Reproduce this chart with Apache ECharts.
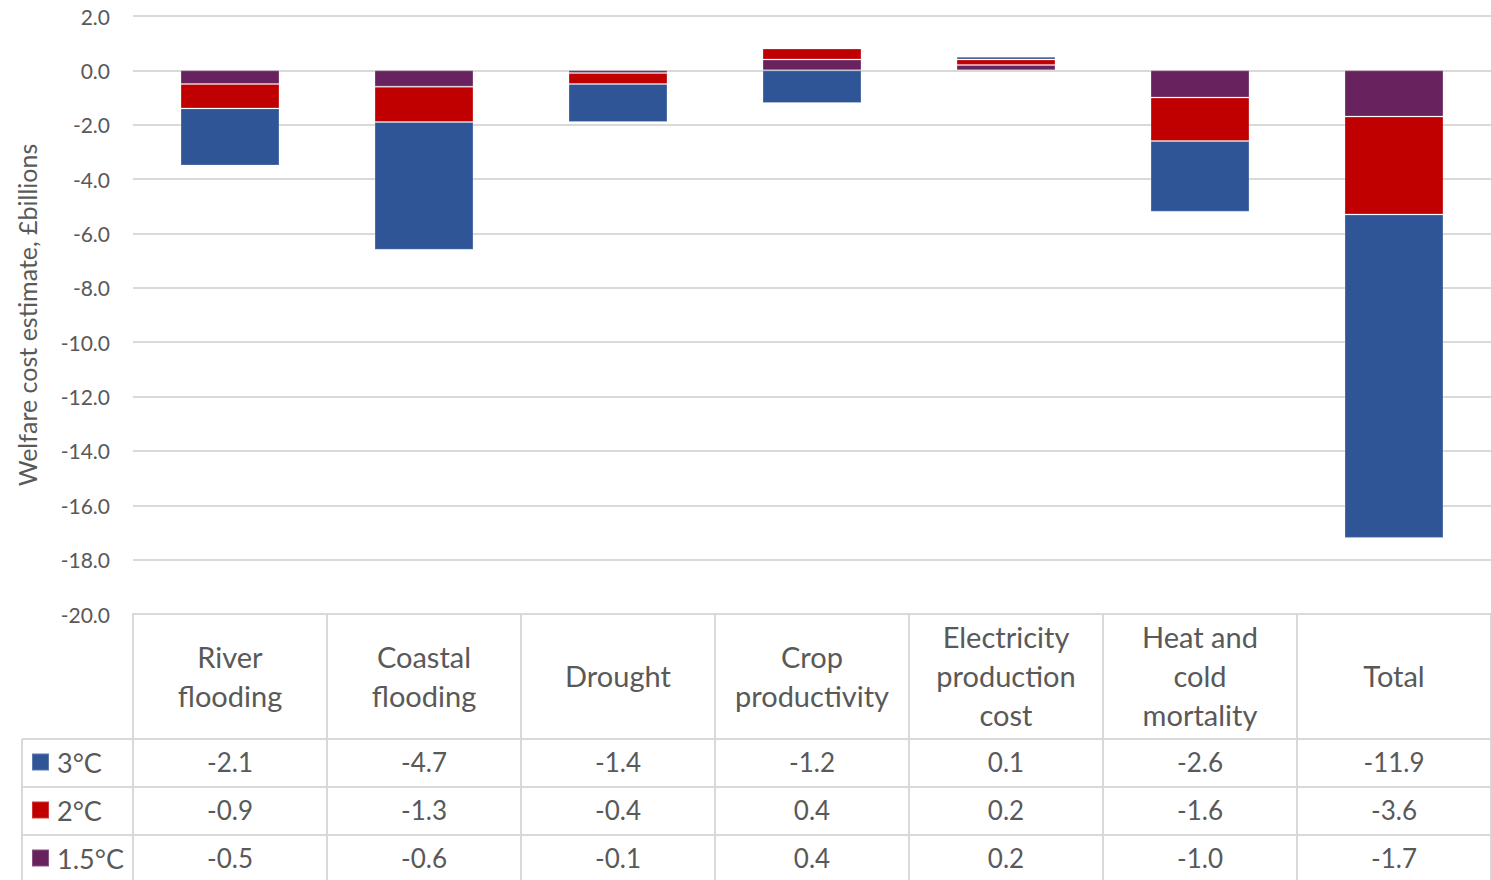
<!DOCTYPE html>
<html>
<head>
<meta charset="utf-8">
<script src="https://cdn.jsdelivr.net/npm/echarts@6/dist/echarts.min.js"></script>
<style>
  html, body { margin: 0; padding: 0; background: #ffffff; }
  #chart { width: 1491px; height: 880px; }
</style>
</head>
<body>
<div id="chart"></div>
<script>
// Impact categories (header row of the data table)
const categories = [
  'River\nflooding',
  'Coastal\nflooding',
  'Drought',
  'Crop\nproductivity',
  'Electricity\nproduction\ncost',
  'Heat and\ncold\nmortality',
  'Total'
];

// Welfare cost estimates, £billions, by warming level
const warming3C = [-2.1, -4.7, -1.4, -1.2, 0.1, -2.6, -11.9];
const warming2C = [-0.9, -1.3, -0.4, 0.4, 0.2, -1.6, -3.6];
const warming15C = [-0.5, -0.6, -0.1, 0.4, 0.2, -1.0, -1.7];

const seriesNames = ['3°C', '2°C', '1.5°C'];

// Value axis range and tick step
const yMin = -20;
const yMax = 2;
const yStep = 2;

const FONT = 'Lato';
const TEXT = '#595959';
const RULE = '#D9D9D9';
const COLORS = { '3°C': '#2F5597', '2°C': '#C00000', '1.5°C': '#68235F' };

const chart = echarts.init(document.getElementById('chart'), null, { renderer: 'svg' });

// Table geometry below the plot
const W = 1491, H = 880;
const gridLeft = 133, gridTop = 16, gridBottomY = 614;
const headerH = 125, rowH = 48, tableLeft = 22;

function barSeries(name, values) {
  return {
    name: name,
    type: 'bar',
    stack: 'total',
    data: values,
    barWidth: '51%',
    itemStyle: {
      color: COLORS[name],
      borderColor: 'rgba(255,255,255,0.22)',
      borderWidth: 1
    },
    emphasis: { disabled: true }
  };
}

const rowValues = [warming3C, warming2C, warming15C];

// One label-only category axis per table row, so every row value sits under its column
const rowAxes = rowValues.map((vals, i) => ({
  type: 'category',
  position: 'bottom',
  data: vals.map(v => v.toFixed(1)),
  axisLine: { show: false, onZero: false },
  axisTick: { show: false },
  splitLine: { show: false },
  axisLabel: {
    interval: 0,
    color: TEXT,
    fontFamily: FONT,
    fontSize: 26,
    verticalAlign: 'middle',
    margin: headerH + rowH * i + rowH / 2 - 1
  }
}));

const tableLines = [];
for (let i = 0; i < 3; i++) {
  const y = gridBottomY + headerH + rowH * i;
  tableLines.push({
    type: 'line',
    shape: { x1: tableLeft, y1: y, x2: W, y2: y },
    style: { stroke: RULE, lineWidth: 2 },
    silent: true
  });
}
tableLines.push({
  type: 'line',
  shape: { x1: tableLeft, y1: gridBottomY + headerH, x2: tableLeft, y2: H },
  style: { stroke: RULE, lineWidth: 2 },
  silent: true
});

chart.setOption({
  animation: false,
  backgroundColor: '#ffffff',
  textStyle: { fontFamily: FONT },
  grid: {
    left: gridLeft,
    right: 0,
    top: gridTop,
    bottom: H - gridBottomY,
    containLabel: false
  },
  legend: {
    orient: 'vertical',
    left: 31,
    top: gridBottomY + headerH + 7,
    padding: 0,
    itemGap: 16,
    itemWidth: 17,
    itemHeight: 17,
    icon: 'rect',
    selectedMode: false,
    data: seriesNames,
    textStyle: {
      color: TEXT,
      fontFamily: FONT,
      fontSize: 27,
      lineHeight: 32,
      padding: [0, 0, 0, 3]
    }
  },
  xAxis: [
    {
      type: 'category',
      position: 'bottom',
      data: categories,
      axisLine: { show: true, onZero: false, lineStyle: { color: RULE, width: 2 } },
      axisTick: { show: true, length: H - gridBottomY, lineStyle: { color: RULE, width: 2 } },
      splitLine: { show: false },
      axisLabel: {
        interval: 0,
        color: TEXT,
        fontFamily: FONT,
        fontSize: 29,
        lineHeight: 39,
        verticalAlign: 'middle',
        margin: headerH / 2 - 1
      }
    }
  ].concat(rowAxes),
  yAxis: {
    type: 'value',
    min: yMin,
    max: yMax,
    interval: yStep,
    name: 'Welfare cost estimate, £billions',
    nameLocation: 'middle',
    nameGap: 94,
    nameTextStyle: { color: TEXT, fontFamily: FONT, fontSize: 25 },
    axisLine: { show: false },
    axisTick: { show: false },
    splitLine: { lineStyle: { color: RULE, width: 2 } },
    axisLabel: {
      color: TEXT,
      fontFamily: FONT,
      fontSize: 21,
      margin: 23,
      formatter: v => v.toFixed(1)
    }
  },
  series: [
    barSeries('1.5°C', warming15C),
    barSeries('2°C', warming2C),
    barSeries('3°C', warming3C)
  ],
  graphic: tableLines
});
</script>
</body>
</html>
